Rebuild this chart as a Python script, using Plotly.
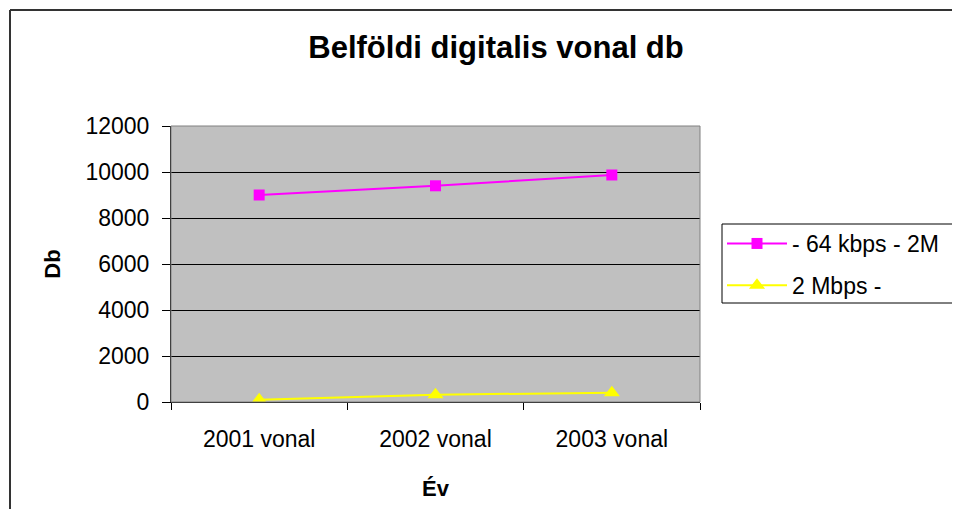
import plotly.graph_objects as go

categories = ["2001 vonal", "2002 vonal", "2003 vonal"]
series_64k = [9000, 9400, 9870]
series_2m = [100, 320, 400]
series_names = ["- 64 kbps - 2M", "2 Mbps -"]
y_ticks = [0, 2000, 4000, 6000, 8000, 10000, 12000]

FONT = "Liberation Sans, Arial, sans-serif"
OFF = 8  # page body margin
W, H = 960 - 2 * OFF, 517 - 2 * OFF
L, R, T, B = 171 - OFF, 700 - OFF, 126 - OFF, 402 - OFF
pw, ph = R - L, B - T
XMAX = W + OFF  # page x of the figure's right edge
YMAX = H + OFF  # page y of the figure's bottom edge


def px(xp):
    return (xp - OFF - L) / pw


def py(yp):
    return (B - (yp - OFF)) / ph


fig = go.Figure()
fig.add_trace(go.Scatter(
    x=categories, y=series_64k, name=series_names[0], mode="lines+markers",
    line=dict(color="#FF00FF", width=2),
    marker=dict(symbol="square", size=11, color="#FF00FF"),
    legendgroup="a",
))
fig.add_trace(go.Scatter(
    x=categories, y=series_2m, name=series_names[1], mode="lines+markers",
    line=dict(color="#FFFF00", width=2),
    marker=dict(symbol="triangle-up", size=14, color="#FFFF00"),
    legendgroup="b",
))


def seg(x0, y0, x1, y1, color="#333333", width=2):
    return dict(type="line", xref="paper", yref="paper",
                x0=px(x0), y0=py(y0), x1=px(x1), y1=py(y1),
                line=dict(color=color, width=width), layer="above")


fig.update_layout(
    width=W, height=H,
    margin=dict(l=L, r=W - R, t=T, b=H - B, autoexpand=False),
    paper_bgcolor="white",
    plot_bgcolor="#C0C0C0",
    font=dict(family=FONT, color="black", size=23),
    title=dict(text="<b>Belföldi digitalis vonal db</b>", x=px(496), xref="paper",
               xanchor="center", y=1 - (47 - OFF) / H, yanchor="middle",
               font=dict(size=31, family=FONT, color="black")),
    showlegend=True,
    legend=dict(x=px(722), y=py(222), xanchor="left", yanchor="top",
                bgcolor="rgba(0,0,0,0)", borderwidth=0,
                font=dict(size=23, family=FONT), tracegroupgap=9,
                traceorder="grouped", itemwidth=60),
    xaxis=dict(
        type="category", range=[-0.5, 2.5], tickson="boundaries",
        ticks="outside", ticklen=7, tickcolor="black", tickwidth=1,
        showline=True, linecolor="black", linewidth=1,
        showgrid=False, tickfont=dict(size=23), ticklabelstandoff=16,
        title=dict(text="<b>Év</b>", font=dict(size=22), standoff=30),
    ),
    yaxis=dict(
        range=[0, 12000], tickvals=y_ticks, ticktext=[str(v) for v in y_ticks],
        ticks="outside", ticklen=8, tickcolor="black", tickwidth=1,
        showline=True, linecolor="black", linewidth=1,
        showgrid=True, gridcolor="black", gridwidth=1, zeroline=False,
        tickfont=dict(size=23), ticklabelstandoff=8,
        title=dict(text="<b>Db</b>", font=dict(size=22), standoff=18),
    ),
    shapes=[
        dict(type="rect", xref="x domain", yref="y domain", x0=0, x1=1, y0=0, y1=1,
             line=dict(color="#808080", width=1), layer="above"),
        # outer chart border (left and top visible)
        seg(10, 10, XMAX, 10),
        seg(10, 10, 10, YMAX),
        # legend box (right side runs past the edge)
        seg(722, 224, XMAX, 224, "black", 1),
        seg(722, 224, 722, 303, "black", 1),
        seg(722, 303, XMAX, 303, "black", 1),
    ],
)

fig.write_html("out.html")
